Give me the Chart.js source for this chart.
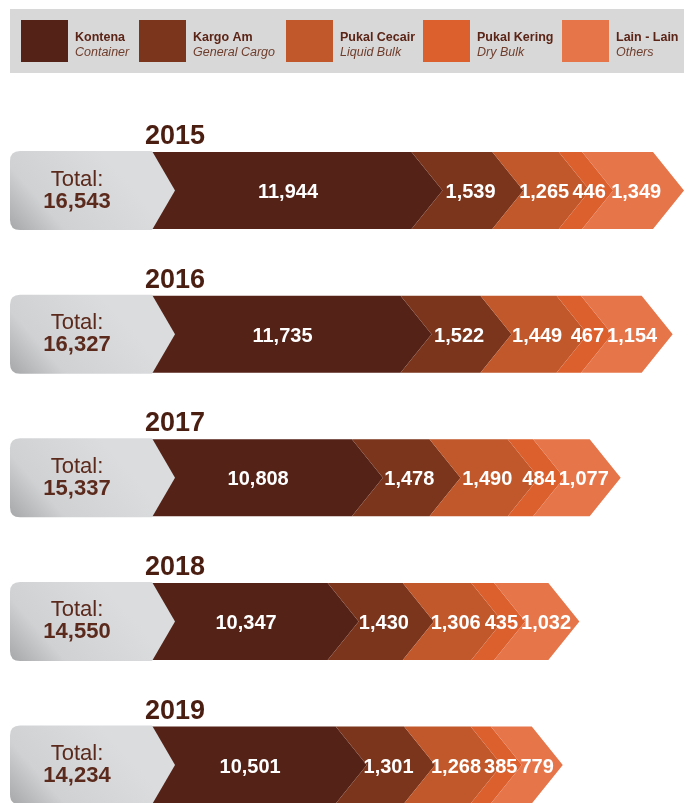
<!DOCTYPE html>
<html>
<head>
<meta charset="utf-8">
<title>Throughput by cargo type</title>
<script src="https://cdn.jsdelivr.net/npm/chart.js@4/dist/chart.umd.min.js"></script>
<style>
	html, body { margin: 0; padding: 0; background: #fff; }
	#wrap { position: relative; width: 691px; height: 803px; }
</style>
</head>
<body>
<div id="wrap"><canvas id="cargo-chart"></canvas></div>
<script>
'use strict';

const years = ['2015', '2016', '2017', '2018', '2019'];

const kontena = [11944, 11735, 10808, 10347, 10501];
const kargoAm = [1539, 1522, 1478, 1430, 1301];
const pukalCecair = [1265, 1449, 1490, 1306, 1268];
const pukalKering = [446, 467, 484, 435, 385];
const lainLain = [1349, 1154, 1077, 1032, 779];

const namesMs = ['Kontena', 'Kargo Am', 'Pukal Cecair', 'Pukal Kering', 'Lain - Lain'];
const namesEn = ['Container', 'General Cargo', 'Liquid Bulk', 'Dry Bulk', 'Others'];
const colours = ['#542217', '#7b351c', '#c0582b', '#dc602e', '#e6754a'];

const FONT = '"Liberation Sans", Arial, Helvetica, sans-serif';
const TIP = 31;      // depth of each chevron point
const BOX_TIP = 23;  // depth of the grey total box point
const LEGEND_X = [21, 139, 286, 423, 562];

function fmt(n) {
	return n.toLocaleString('en-US');
}

function chevron(ctx, s, e, top, bottom, notch) {
	let mid = (top + bottom) / 2;
	ctx.beginPath();
	ctx.moveTo(s, top);
	ctx.lineTo(e, top);
	ctx.lineTo(e + TIP, mid);
	ctx.lineTo(e, bottom);
	ctx.lineTo(s, bottom);
	if (notch) {
		ctx.lineTo(s + TIP, mid);
	}
	ctx.closePath();
	ctx.fill();
}

// bars are drawn as chevrons from the positions the bar controller worked out
const chevronBars = {
	id: 'chevronBars',
	beforeDatasetsDraw(chart) {
		let ctx = chart.ctx;
		let left = chart.chartArea.left;

		ctx.save();
		chart.data.datasets.forEach((ds, di) => {
			let meta = chart.getDatasetMeta(di);
			meta.data.forEach((bar) => {
				let p = bar.getProps(['x', 'y', 'base', 'height'], true);
				let top = p.y - p.height / 2;
				let bottom = p.y + p.height / 2;
				let s = Math.max(Math.min(p.base, p.x), left);
				ctx.fillStyle = ds.backgroundColor;
				chevron(ctx, s, p.x, top, bottom, di > 0);
			});
		});
		ctx.restore();

		return false;
	}
};

function drawLegend(ctx) {
	ctx.fillStyle = '#d9d8d8';
	ctx.fillRect(10, 9, 674, 64);

	for (let i = 0; i < namesMs.length; i++) {
		let x = LEGEND_X[i];
		ctx.fillStyle = colours[i];
		ctx.fillRect(x, 20, 47, 42);

		ctx.textAlign = 'left';
		ctx.textBaseline = 'alphabetic';
		ctx.font = 'bold 12.5px ' + FONT;
		ctx.fillStyle = '#5a2416';
		ctx.fillText(namesMs[i], x + 54, 41);

		ctx.font = 'italic 12.5px ' + FONT;
		ctx.fillStyle = '#6e3d2c';
		ctx.fillText(namesEn[i], x + 54, 56);
	}
}

function drawTotalBox(ctx, y, top, bottom, total) {
	let l = 10;
	let r = 152;
	let rad = 10;
	let t = top - 1;
	let b = bottom + 1;

	let grad = ctx.createLinearGradient(l, b, l + 90, t);
	grad.addColorStop(0, '#a6a7a9');
	grad.addColorStop(0.35, '#cfd1d3');
	grad.addColorStop(1, '#dadcde');

	ctx.fillStyle = grad;
	ctx.beginPath();
	ctx.moveTo(l + rad, t);
	ctx.lineTo(r, t);
	ctx.lineTo(r + BOX_TIP, y);
	ctx.lineTo(r, b);
	ctx.lineTo(l + rad, b);
	ctx.quadraticCurveTo(l, b, l, b - rad);
	ctx.lineTo(l, t + rad);
	ctx.quadraticCurveTo(l, t, l + rad, t);
	ctx.closePath();
	ctx.fill();

	ctx.fillStyle = '#5b2a1c';
	ctx.textAlign = 'center';
	ctx.textBaseline = 'alphabetic';
	ctx.font = '22px ' + FONT;
	ctx.fillText('Total:', 77, y - 5);
	ctx.font = 'bold 22px ' + FONT;
	ctx.fillText(fmt(total), 77, y + 17);
}

// grey total boxes, year headings and the values written on each segment
const overlay = {
	id: 'overlay',
	afterDraw(chart) {
		let ctx = chart.ctx;
		let left = chart.chartArea.left;
		let datasets = chart.data.datasets;

		ctx.save();
		drawLegend(ctx);

		chart.data.labels.forEach((year, row) => {
			let first = chart.getDatasetMeta(0).data[row].getProps(['y', 'height'], true);
			let y = first.y;
			let top = y - first.height / 2;
			let bottom = y + first.height / 2;

			let total = 0;
			datasets.forEach((ds) => { total += ds.data[row]; });

			drawTotalBox(ctx, y, top, bottom, total);

			ctx.fillStyle = '#4b1e12';
			ctx.textAlign = 'left';
			ctx.textBaseline = 'alphabetic';
			ctx.font = 'bold 27px ' + FONT;
			ctx.fillText(year, 145, top - 8);

			ctx.font = 'bold 20px ' + FONT;
			ctx.fillStyle = '#fff';
			ctx.textAlign = 'center';
			ctx.textBaseline = 'middle';

			let prevRight = -Infinity;
			datasets.forEach((ds, di) => {
				let p = chart.getDatasetMeta(di).data[row].getProps(['x', 'base'], true);
				let s = Math.max(Math.min(p.base, p.x), left);
				let text = fmt(ds.data[row]);
				let w = ctx.measureText(text).width;
				let cx = di === 0 ? (s + p.x) / 2 + TIP * 0.2 : (s + p.x) / 2 + TIP * 0.6;
				if (cx - w / 2 < prevRight + 3) {
					cx = prevRight + 3 + w / 2;
				}
				ctx.fillText(text, cx, y + 2);
				prevRight = cx + w / 2;
			});
		});
		ctx.restore();
	}
};

const series = [kontena, kargoAm, pukalCecair, pukalKering, lainLain];

let ctx = document.getElementById('cargo-chart');
let chart = new Chart(ctx, {
	type: 'bar',
	data: {
		labels: years,
		datasets: series.map((values, i) => {
			return {
				label: namesMs[i],
				data: values,
				backgroundColor: colours[i],
				barThickness: 77
			};
		})
	},
	options: {
		indexAxis: 'y',
		responsive: true,
		maintainAspectRatio: false,
		animation: false,
		events: [],
		layout: {
			padding: { left: 152, right: 35, top: 190.5, bottom: 38 }
		},
		scales: {
			x: {
				stacked: true,
				min: 7000,
				max: 16600,
				display: false
			},
			y: {
				stacked: true,
				offset: false,
				display: false
			}
		},
		plugins: {
			legend: { display: false },
			tooltip: { enabled: false }
		}
	},
	plugins: [chevronBars, overlay]
});
</script>
</body>
</html>
